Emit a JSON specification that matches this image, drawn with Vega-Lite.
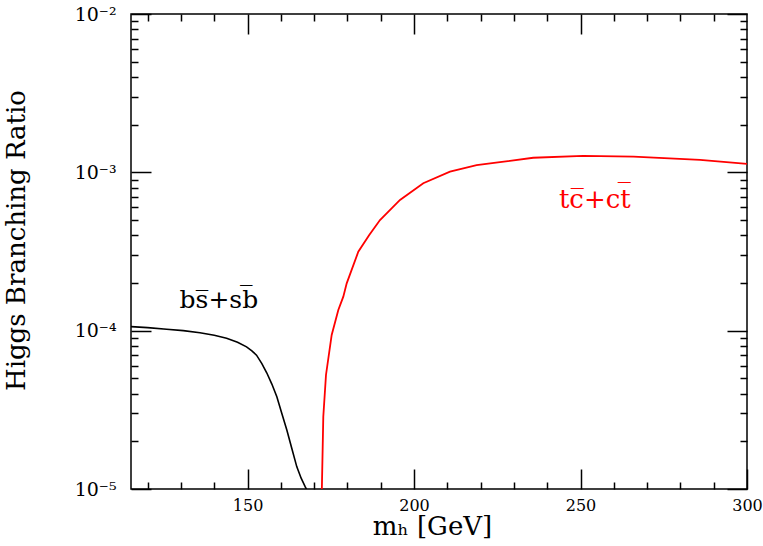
{
  "$schema": "https://vega.github.io/schema/vega-lite/v6.json",
  "autosize": {"type": "none"},
  "padding": {"left": 131, "top": 14, "right": 16, "bottom": 57},
  "width": 616,
  "height": 475,
  "background": "white",
  "config": {
    "view": {"stroke": "black", "strokeWidth": 1.5},
    "axis": {
      "domain": false, "zindex": 1,
      "tickColor": "black", "tickWidth": 1.5,
      "labelColor": "black", "titleColor": "black",
      "labelFont": "DejaVu Serif", "titleFont": "DejaVu Serif",
      "labelFontSize": 16, "titleFontSize": 26, "titleFontWeight": "normal",
      "grid": false
    }
  },
  "datasets": {
    "curves": [
      {"mass": 115, "br": 1.06e-4, "channel": "bs"},
      {"mass": 120, "br": 1.045e-4, "channel": "bs"},
      {"mass": 125.7, "br": 1.02e-4, "channel": "bs"},
      {"mass": 130.7, "br": 1.0e-4, "channel": "bs"},
      {"mass": 135.7, "br": 9.7e-5, "channel": "bs"},
      {"mass": 140, "br": 9.35e-5, "channel": "bs"},
      {"mass": 143.7, "br": 8.95e-5, "channel": "bs"},
      {"mass": 147, "br": 8.45e-5, "channel": "bs"},
      {"mass": 149.7, "br": 7.9e-5, "channel": "bs"},
      {"mass": 151.3, "br": 7.45e-5, "channel": "bs"},
      {"mass": 152.7, "br": 7.0e-5, "channel": "bs"},
      {"mass": 154.3, "br": 6.2e-5, "channel": "bs"},
      {"mass": 155.8, "br": 5.4e-5, "channel": "bs"},
      {"mass": 157.3, "br": 4.6e-5, "channel": "bs"},
      {"mass": 158.8, "br": 3.83e-5, "channel": "bs"},
      {"mass": 160.3, "br": 3.0e-5, "channel": "bs"},
      {"mass": 161.8, "br": 2.36e-5, "channel": "bs"},
      {"mass": 163.3, "br": 1.8e-5, "channel": "bs"},
      {"mass": 164.8, "br": 1.38e-5, "channel": "bs"},
      {"mass": 166.1, "br": 1.17e-5, "channel": "bs"},
      {"mass": 167.3, "br": 1.035e-5, "channel": "bs"},
      {"mass": 168.2, "br": 9.5e-6, "channel": "bs"},
      {"mass": 172.3, "br": 9.5e-6, "channel": "tc"},
      {"mass": 172.75, "br": 2.86e-5, "channel": "tc"},
      {"mass": 173.56, "br": 5.25e-5, "channel": "tc"},
      {"mass": 175.27, "br": 9.4e-5, "channel": "tc"},
      {"mass": 177.26, "br": 1.35e-4, "channel": "tc"},
      {"mass": 178.76, "br": 1.64e-4, "channel": "tc"},
      {"mass": 179.78, "br": 1.99e-4, "channel": "tc"},
      {"mass": 183.26, "br": 3.15e-4, "channel": "tc"},
      {"mass": 186.5, "br": 4.0e-4, "channel": "tc"},
      {"mass": 189.78, "br": 5.0e-4, "channel": "tc"},
      {"mass": 195.79, "br": 6.69e-4, "channel": "tc"},
      {"mass": 202.78, "br": 8.53e-4, "channel": "tc"},
      {"mass": 210.8, "br": 1.01e-3, "channel": "tc"},
      {"mass": 218.8, "br": 1.11e-3, "channel": "tc"},
      {"mass": 225.8, "br": 1.16e-3, "channel": "tc"},
      {"mass": 235.8, "br": 1.236e-3, "channel": "tc"},
      {"mass": 250.8, "br": 1.27e-3, "channel": "tc"},
      {"mass": 265.9, "br": 1.256e-3, "channel": "tc"},
      {"mass": 285.9, "br": 1.197e-3, "channel": "tc"},
      {"mass": 300, "br": 1.13e-3, "channel": "tc"}
    ],
    "labels": [
      {"mass": 141.4, "br": 1.56e-4, "label": "bs̅+sb̅", "channel": "bs"},
      {"mass": 254.3, "br": 6.68e-4, "label": "tc̅+ct̅", "channel": "tc"}
    ]
  },
  "resolve": {"axis": {"x": "independent", "y": "independent"}},
  "layer": [
    {
      "data": {"name": "curves"},
      "transform": [{"filter": "datum.channel == 'bs'"}],
      "mark": {"type": "line", "color": "black", "strokeWidth": 1.6, "clip": true},
      "encoding": {
        "x": {"field": "mass", "type": "quantitative",
          "scale": {"domain": [115, 300], "zero": false, "nice": false},
          "axis": {"orient": "bottom", "values": [150, 200, 250, 300], "offset": -20, "tickSize": 20, "labelPadding": 8,
            "title": "mₕ [GeV]", "titleX": 301, "titleY": 57, "titleBaseline": "middle", "titleAnchor": "middle", "labelFlush": false}},
        "y": {"field": "br", "type": "quantitative",
          "scale": {"type": "log", "domain": [1e-5, 1e-2], "nice": false},
          "axis": {"orient": "left", "values": [1e-5, 1e-4, 1e-3, 1e-2], "offset": -20, "tickSize": 20, "labelPadding": 15, "labelFontSize": 19,
            "labelExpr": "'10' + ['⁻⁵','⁻⁴','⁻³','⁻²'][round(log(datum.value)/LN10)+5]",
            "title": "Higgs Branching Ratio", "titleX": -135, "titleY": 226, "titleBaseline": "middle", "titleAngle": -90, "titleAnchor": "middle"}}
      }
    },
    {
      "data": {"name": "curves"},
      "transform": [{"filter": "datum.channel == 'tc'"}],
      "mark": {"type": "line", "color": "#ff0000", "strokeWidth": 1.8, "clip": true},
      "encoding": {
        "x": {"field": "mass", "type": "quantitative",
          "axis": {"orient": "top", "values": [150, 200, 250], "offset": -20, "tickSize": 20, "labels": false, "title": null}},
        "y": {"field": "br", "type": "quantitative",
          "axis": {"orient": "right", "values": [1e-5, 1e-4, 1e-3, 1e-2], "offset": -20, "tickSize": 20, "labels": false, "title": null}}
      }
    },
    {
      "data": {"name": "labels"},
      "transform": [{"filter": "datum.channel == 'bs'"}],
      "mark": {"type": "text", "color": "black", "font": "DejaVu Serif", "fontSize": 25, "baseline": "middle", "align": "center"},
      "encoding": {
        "text": {"field": "label"},
        "x": {"field": "mass", "type": "quantitative",
          "axis": {"orient": "bottom", "values": [120, 130, 140, 160, 170, 180, 190, 210, 220, 230, 240, 260, 270, 280, 290], "offset": -7, "tickSize": 7, "labels": false, "title": null}},
        "y": {"field": "br", "type": "quantitative",
          "axis": {"orient": "left", "values": [2e-5, 3e-5, 4e-5, 5e-5, 6e-5, 7e-5, 8e-5, 9e-5, 2e-4, 3e-4, 4e-4, 5e-4, 6e-4, 7e-4, 8e-4, 9e-4, 2e-3, 3e-3, 4e-3, 5e-3, 6e-3, 7e-3, 8e-3, 9e-3], "offset": -7, "tickSize": 7, "labels": false, "title": null}}
      }
    },
    {
      "data": {"name": "labels"},
      "transform": [{"filter": "datum.channel == 'tc'"}],
      "mark": {"type": "text", "color": "#ff0000", "font": "DejaVu Serif", "fontSize": 26, "baseline": "middle", "align": "center"},
      "encoding": {
        "text": {"field": "label"},
        "x": {"field": "mass", "type": "quantitative",
          "axis": {"orient": "top", "values": [120, 130, 140, 160, 170, 180, 190, 210, 220, 230, 240, 260, 270, 280, 290], "offset": -7, "tickSize": 7, "labels": false, "title": null}},
        "y": {"field": "br", "type": "quantitative",
          "axis": {"orient": "right", "values": [2e-5, 3e-5, 4e-5, 5e-5, 6e-5, 7e-5, 8e-5, 9e-5, 2e-4, 3e-4, 4e-4, 5e-4, 6e-4, 7e-4, 8e-4, 9e-4, 2e-3, 3e-3, 4e-3, 5e-3, 6e-3, 7e-3, 8e-3, 9e-3], "offset": -7, "tickSize": 7, "labels": false, "title": null}}
      }
    }
  ]
}
